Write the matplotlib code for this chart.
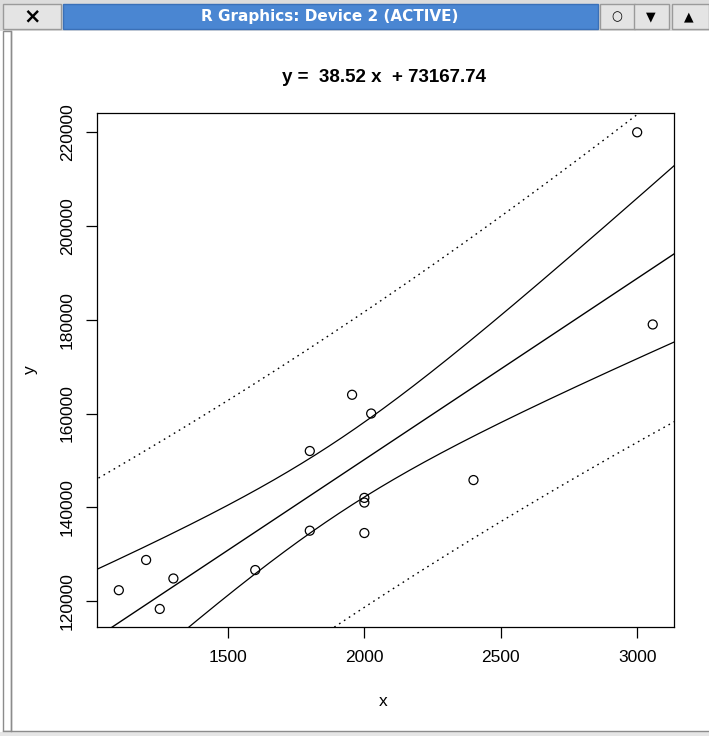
import numpy as np
import matplotlib
matplotlib.use("Agg")
import matplotlib.pyplot as plt
from matplotlib.patches import Rectangle

# ---- data ----
x_vals = [1100, 1200, 1250, 1300, 1600, 1800, 1800, 1955, 2025,
          2000, 2000, 2000, 2400, 3000, 3057]
y_vals = [122300, 128750, 118300, 124800, 126600, 152000, 135000, 164000,
          160000, 142000, 141000, 134500, 145800, 220000, 179000]
title_text = "y =  38.52 x  + 73167.74"
x_ticks = [1500, 2000, 2500, 3000]
y_ticks = [120000, 140000, 160000, 180000, 200000, 220000]
x_limits = (1020, 3135)
y_limits = (114450, 224120)
t_975_df13 = 2.160369  # Student t quantile used for the 95% bands
window_title = "R Graphics: Device 2 (ACTIVE)"

W, H = 709, 736
fig = plt.figure(figsize=(W / 100, H / 100), dpi=100)
fig.patch.set_facecolor("white")

def fx(px):
    return px / W

def fy(py):
    return 1 - py / H

# ---- window chrome ----
chrome = fig.add_axes([0, 0, 1, 1], zorder=-5)
chrome.set_xlim(0, W)
chrome.set_ylim(H, 0)
chrome.axis("off")
chrome.add_patch(Rectangle((0, 0), W, 31, facecolor="#dcdcdc", edgecolor="none"))
chrome.add_patch(Rectangle((3, 4), 58, 25, facecolor="#e4e4e4", edgecolor="#9a9a9a", lw=1))
chrome.text(32, 16.5, "\u00d7", ha="center", va="center", fontsize=15,
            fontweight="bold", family="DejaVu Sans", color="black")
chrome.add_patch(Rectangle((63, 4), 535, 25, facecolor="#4a86d2", edgecolor="#3a70b8", lw=1))
chrome.text(330, 16.5, window_title, ha="center", va="center", fontsize=11,
            fontweight="bold", family="DejaVu Sans", color="white")
for bx, sym in [(600, "\u25cb"), (634, "\u25bc"), (672, "\u25b2")]:
    chrome.add_patch(Rectangle((bx, 4), 35 if bx < 672 else 37, 25, facecolor="#e4e4e4",
                               edgecolor="#9a9a9a", lw=1))
    chrome.text(bx + 17, 16.5, sym, ha="center", va="center", fontsize=9,
                family="DejaVu Sans", color="black")
chrome.add_patch(Rectangle((3, 31), 8, 700, facecolor="white", edgecolor="#8c8c8c", lw=1))
chrome.plot([11, 11], [31, 731], color="#8c8c8c", lw=1)
chrome.plot([3, 709], [731, 731], color="#8c8c8c", lw=1)
chrome.add_patch(Rectangle((0, 732), W, 4, facecolor="#e6e6e6", edgecolor="none"))

# ---- plot ----
ax = fig.add_axes([fx(97), fy(627), fx(674) - fx(97), fy(113) - fy(627)])
xa = np.array(x_vals, dtype=float)
ya = np.array(y_vals, dtype=float)
n = len(xa)
slope, intercept = np.polyfit(xa, ya, 1)
resid = ya - (slope * xa + intercept)
s = np.sqrt(np.sum(resid ** 2) / (n - 2))
xbar = xa.mean()
sxx = np.sum((xa - xbar) ** 2)

xg = np.linspace(x_limits[0] - 50, x_limits[1] + 50, 400)
fit = slope * xg + intercept
se_c = s * np.sqrt(1 / n + (xg - xbar) ** 2 / sxx)
se_p = s * np.sqrt(1 + 1 / n + (xg - xbar) ** 2 / sxx)

ax.scatter(xa, ya, s=42, facecolors="none", edgecolors="black", linewidths=0.9, zorder=3)
ax.plot(xg, fit, color="black", lw=1.0)
ax.plot(xg, fit + t_975_df13 * se_c, color="black", lw=0.9)
ax.plot(xg, fit - t_975_df13 * se_c, color="black", lw=0.9)
ax.plot(xg, fit + t_975_df13 * se_p, color="black", lw=1.0, linestyle=(0, (1.2, 3)))
ax.plot(xg, fit - t_975_df13 * se_p, color="black", lw=1.0, linestyle=(0, (1.2, 3)))

ax.set_xlim(*x_limits)
ax.set_ylim(*y_limits)
ax.set_xticks(x_ticks)
ax.set_yticks(y_ticks)
ax.set_xticklabels([str(v) for v in x_ticks], family="Liberation Sans", fontsize=12.5)
ax.set_yticklabels([str(v) for v in y_ticks], family="Liberation Sans", fontsize=12.5,
                   rotation=90, va="center")
ax.tick_params(direction="out", length=7.9, width=0.9, color="black")
ax.tick_params(axis="x", pad=8.3)
ax.tick_params(axis="y", pad=8.0)
for sp in ax.spines.values():
    sp.set_linewidth(0.9)
    sp.set_color("black")

fig.text(fx(384), fy(82), title_text, ha="center", va="baseline",
         family="Liberation Sans", fontsize=13.5, fontweight="bold")
fig.text(fx(383), fy(701), "x", ha="center", va="center",
         family="Liberation Sans", fontsize=12.5)
fig.text(fx(30), fy(370), "y", ha="center", va="center", rotation=90,
         family="Liberation Sans", fontsize=12.5)

fig.savefig("out.png", dpi=100)
